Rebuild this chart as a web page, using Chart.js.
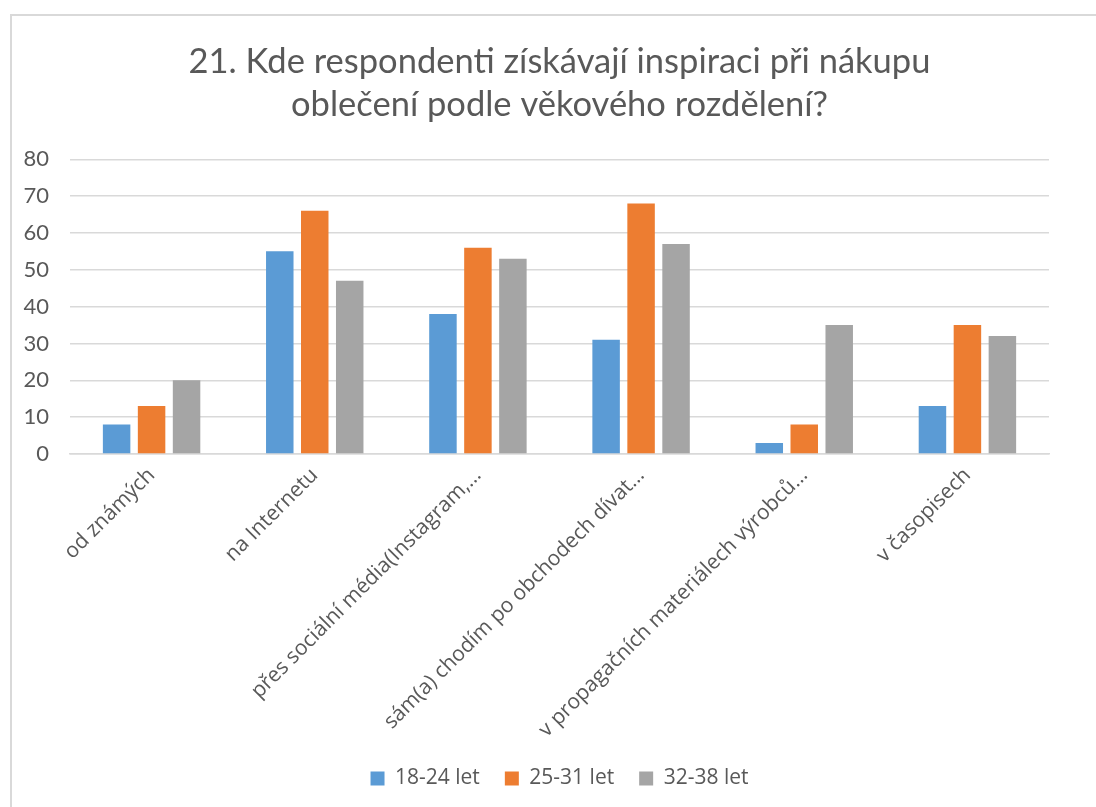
<!DOCTYPE html>
<html>
<head>
<meta charset="utf-8">
<script src="https://cdn.jsdelivr.net/npm/chart.js@4"></script>
<style>
  html,body{margin:0;padding:0;background:#fff;}
  #frame{position:absolute;left:10px;top:14px;width:1200px;height:900px;border-top:2px solid #d9d9d9;border-left:2px solid #d9d9d9;}
  #wrap{position:absolute;left:0;top:0;width:1096px;height:807px;}
</style>
</head>
<body>
<div id="frame"></div>
<div id="wrap"><canvas id="c" width="1096" height="807"></canvas></div>
<script>
const titleLines = ["21. Kde respondenti získávají inspiraci při nákupu", "oblečení podle věkového rozdělení?"];
const categories = ["od známých", "na Internetu", "přes sociální média(Instagram,…", "sám(a) chodím po obchodech dívat…", "v propagačních materiálech výrobců…", "v časopisech"];
const seriesNames = ["18-24 let", "25-31 let", "32-38 let"];
const s18_24 = [8, 55, 38, 31, 3, 13];
const s25_31 = [13, 66, 56, 68, 8, 35];
const s32_38 = [20, 47, 53, 57, 35, 32];
const colors = ["#5B9BD5", "#ED7D31", "#A5A5A5"];
const yTicks = [0, 10, 20, 30, 40, 50, 60, 70, 80];

const textColor = "#595959";

new Chart(document.getElementById('c'), {
  type: 'bar',
  data: {
    labels: categories,
    datasets: [
      {label: seriesNames[0], data: s18_24, backgroundColor: colors[0]},
      {label: seriesNames[1], data: s25_31, backgroundColor: colors[1]},
      {label: seriesNames[2], data: s32_38, backgroundColor: colors[2]}
    ]
  },
  options: {
    responsive: false,
    animation: false,
    devicePixelRatio: 1,
    layout: {padding: {top: 18, right: 47, left: 0, bottom: 8}},
    datasets: {bar: {categoryPercentage: 0.643, barPercentage: 0.786}},
    plugins: {
      title: {
        display: true,
        fullSize: false,
        text: titleLines,
        color: textColor,
        font: {family: "Lato", size: 34.5, weight: 'normal', lineHeight: 1.25},
        padding: {top: 22, bottom: 33}
      },
      legend: {
        position: 'bottom',
        fullSize: false,
        labels: {
          color: textColor,
          font: {family: "Open Sans", size: 21},
          boxWidth: 14, boxHeight: 14,
          padding: 25
        }
      },
      tooltip: {enabled: false}
    },
    scales: {
      x: {
        grid: {display: false},
        border: {display: true, color: '#d9d9d9', width: 1.5},
        ticks: {
          color: textColor,
          font: {family: "Open Sans", size: 21},
          maxRotation: 45, minRotation: 45,
          autoSkip: false,
          padding: 1
        },
        afterFit: (s) => { s.height = 289; }
      },
      y: {
        min: 0, max: 80,
        afterBuildTicks: (s) => { s.ticks = yTicks.map(v => ({value: v})); },
        grid: {color: '#d9d9d9', lineWidth: 1.5, drawTicks: false},
        border: {display: false},
        ticks: {
          color: textColor,
          font: {family: "Lato", size: 22},
          padding: 21
        },
        afterFit: (s) => { s.width = 70; }
      }
    }
  }
});
</script>
</body>
</html>
